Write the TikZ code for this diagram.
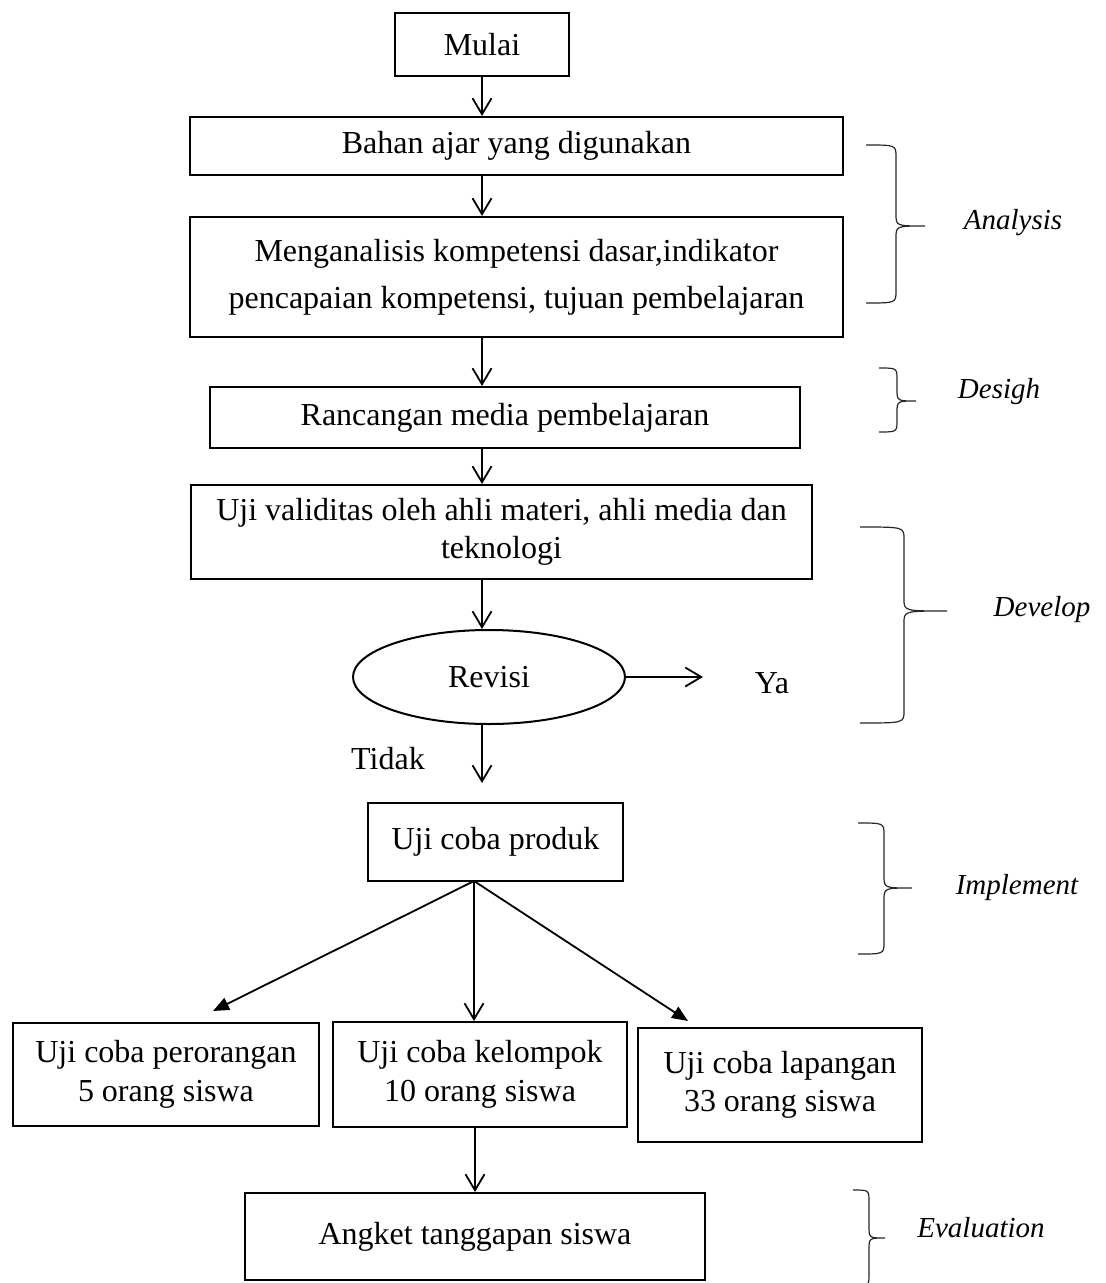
\documentclass[tikz,border=0pt]{standalone}
\usepackage{fontspec}
\setmainfont{Liberation Serif}
\usetikzlibrary{arrows.meta}
\usetikzlibrary{shapes.geometric}

\tikzset{
  kotak/.style={draw, line width=1pt, inner sep=2pt, align=center, font=\fontsize{16}{19.2}\selectfont},
  teks/.style={inner sep=1pt, font=\fontsize{16}{19.2}\selectfont},
  tahap/.style={inner sep=1pt, font=\fontsize{14.5}{17}\selectfont\itshape},
  panah/.style={line width=0.9pt, -{Straight Barb[length=8pt,width=9.5pt,line width=0.9pt]}},
  panahisi/.style={line width=0.9pt, -{Triangle[length=8pt,width=6.5pt]}},
  kurung/.style={line width=0.6pt, black!85}
}

\begin{document}
\begin{tikzpicture}[x=0.5pt, y=-0.5pt]
\useasboundingbox (0,0) rectangle (1106,1283);

% kotak alur
\node[kotak, minimum width=87pt, minimum height=31.5pt] (mulai) at (482,44.5) {Mulai};
\node[kotak, minimum width=326.5pt, minimum height=29pt] (bahan) at (516.5,146) {Bahan ajar yang digunakan};
\node[kotak, minimum width=326.5pt, minimum height=60pt] (analisis) at (516.5,277) {Menganalisis kompetensi dasar,indikator\\[4.3pt] pencapaian kompetensi, tujuan pembelajaran};
\node[kotak, minimum width=295pt, minimum height=30.5pt] (rancangan) at (505,417.5) {Rancangan media pembelajaran};
\node[kotak, minimum width=310.5pt, minimum height=47pt] (validitas) at (501.5,532) {Uji validitas oleh ahli materi, ahli media dan\\ teknologi};
\node[kotak, ellipse, inner sep=0pt, minimum width=136pt, minimum height=47pt] (revisi) at (489,677) {Revisi};
\node[teks] (ya) at (772,683) {Ya};
\node[teks] (tidak) at (388,759) {Tidak};
\node[kotak, minimum width=127.5pt, minimum height=39pt] (produk) at (495.5,842) {Uji coba produk};
\node[kotak, minimum width=153pt, minimum height=51.5pt] (perorangan) at (166,1074.5) {Uji coba perorangan\\ 5 orang siswa};
\node[kotak, minimum width=147pt, minimum height=52.5pt] (kelompok) at (480,1074.5) {Uji coba kelompok\\ 10 orang siswa};
\node[kotak, minimum width=142pt, minimum height=57pt] (lapangan) at (780,1085) {Uji coba lapangan\\ 33 orang siswa};
\node[kotak, minimum width=230pt, minimum height=43.5pt] (angket) at (475,1236.5) {Angket tanggapan siswa};

% ujung panah bebas
\coordinate (ujungya) at (703,677);
\coordinate (ujungtidak) at (482,783);
\coordinate (pucuk) at (474,881);
\coordinate (ujungkiri) at (213,1011);
\coordinate (ujungkanan) at (688,1021);

\draw[panah] (mulai) -- (mulai |- bahan.north);
\draw[panah] (bahan.south -| mulai) -- (analisis.north -| mulai);
\draw[panah] (analisis.south -| mulai) -- (rancangan.north -| mulai);
\draw[panah] (rancangan.south -| mulai) -- (validitas.north -| mulai);
\draw[panah] (validitas.south -| mulai) -- (revisi.north -| mulai);
\draw[panah] (revisi) -- (ujungya);
\draw[panah] (revisi.south -| mulai) -- (ujungtidak);
\draw[panahisi] (pucuk) -- (ujungkiri);
\draw[panah, line width=0.6pt] (pucuk) -- (kelompok.north -| pucuk);
\draw[panahisi] (pucuk) -- (ujungkanan);
\draw[panah] (kelompok.south -| angket) -- (angket);

% kurung kurawal tahap ADDIE
\foreach \xa/\xb/\xc/\ya/\yb/\yc/\nama/\xt/\yt in {
  866/896/925/145/226/303/Analysis/1013/223,
  879/897/916/368/401/432/Desigh/999/392,
  860/904/947/527/611/723/Develop/1042/610,
  858/884/912/823/888/954/Implement/1017/888,
  853/869/885/1190/1238/1286/Evaluation/981/1228}
{
  \draw[kurung] (\xa,\ya) .. controls (\xb,\ya) .. (\xb,\ya+12) -- (\xb,\yb-12)
    .. controls (\xb,\yb) .. (\xc,\yb) .. controls (\xb,\yb) .. (\xb,\yb+12)
    -- (\xb,\yc-12) .. controls (\xb,\yc) .. (\xa,\yc);
  \node[tahap] (tahap-\nama) at (\xt,\yt) {\nama};
}

\end{tikzpicture}
\end{document}
